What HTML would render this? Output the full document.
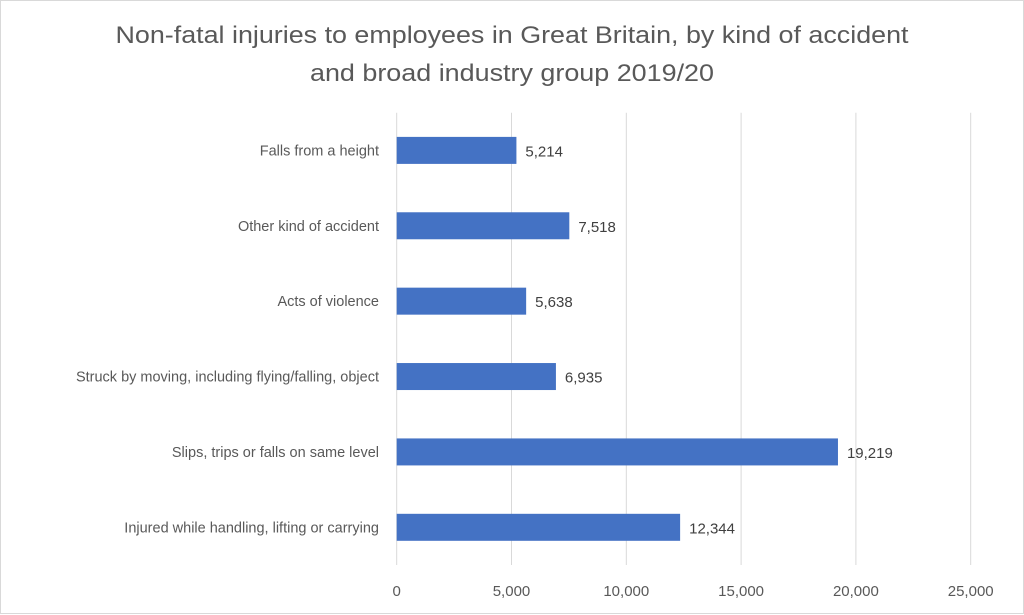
<!DOCTYPE html>
<html><head><meta charset="utf-8"><style>
html,body{margin:0;padding:0;background:#fff;}
svg{display:block;font-family:"Liberation Sans",sans-serif;}
</style></head><body>
<svg width="1024" height="615" viewBox="0 0 1024 615">
<rect x="0.5" y="0.5" width="1023" height="613" fill="#fff" stroke="#d9d9d9"/>
<text x="512" y="43" text-anchor="middle" font-size="24" fill="#595959" textLength="793" lengthAdjust="spacingAndGlyphs">Non-fatal injuries to employees in Great Britain, by kind of accident</text>
<text x="512" y="81" text-anchor="middle" font-size="24" fill="#595959" textLength="404" lengthAdjust="spacingAndGlyphs">and broad industry group 2019/20</text>
<g id="grid"></g><g id="bars"></g><g id="labels"></g>
</svg>
<script>
const categories = ["Falls from a height","Other kind of accident","Acts of violence","Struck by moving, including flying/falling, object","Slips, trips or falls on same level","Injured while handling, lifting or carrying"];
const values = [5214,7518,5638,6935,19219,12344];
const valueLabels = ["5,214","7,518","5,638","6,935","19,219","12,344"];
const ticks = [0,5000,10000,15000,20000,25000];
const tickLabels = ["0","5,000","10,000","15,000","20,000","25,000"];
const NS="http://www.w3.org/2000/svg";
const x0=396.7, pxPer=114.8/5000, plotTop=112.7, plotBottom=565, band=(plotBottom-plotTop)/categories.length, bh=27;
const xs=v=>x0+v*pxPer;
const ys=i=>plotTop+band*(i+0.5);
function mk(tag,attrs,parent){const e=document.createElementNS(NS,tag);for(const k in attrs)e.setAttribute(k,attrs[k]);document.getElementById(parent).appendChild(e);return e;}
ticks.forEach((t,i)=>{
  const l=mk('line',{x1:xs(t),x2:xs(t),y1:plotTop,y2:plotBottom,stroke:'#d9d9d9','stroke-width':1},'grid');
  
  
  const tx=mk('text',{x:xs(t),y:596,'text-anchor':'middle','font-size':15,fill:'#595959'},'labels');
  tx.textContent=tickLabels[i];
  
  
});
categories.forEach((c,i)=>{
  const r=mk('rect',{x:x0,y:ys(i)-bh/2,width:xs(values[i])-x0,height:bh,fill:'#4472c4'},'bars');
  
  
  const cl=mk('text',{x:379,y:ys(i)+5,'text-anchor':'end','font-size':14.5,fill:'#595959'},'labels');
  cl.textContent=c;
  
  
  const vl=mk('text',{x:xs(values[i])+9,y:ys(i)+6,'font-size':15,fill:'#404040'},'labels');
  vl.textContent=valueLabels[i];
  
  
});
</script>
</body></html>
